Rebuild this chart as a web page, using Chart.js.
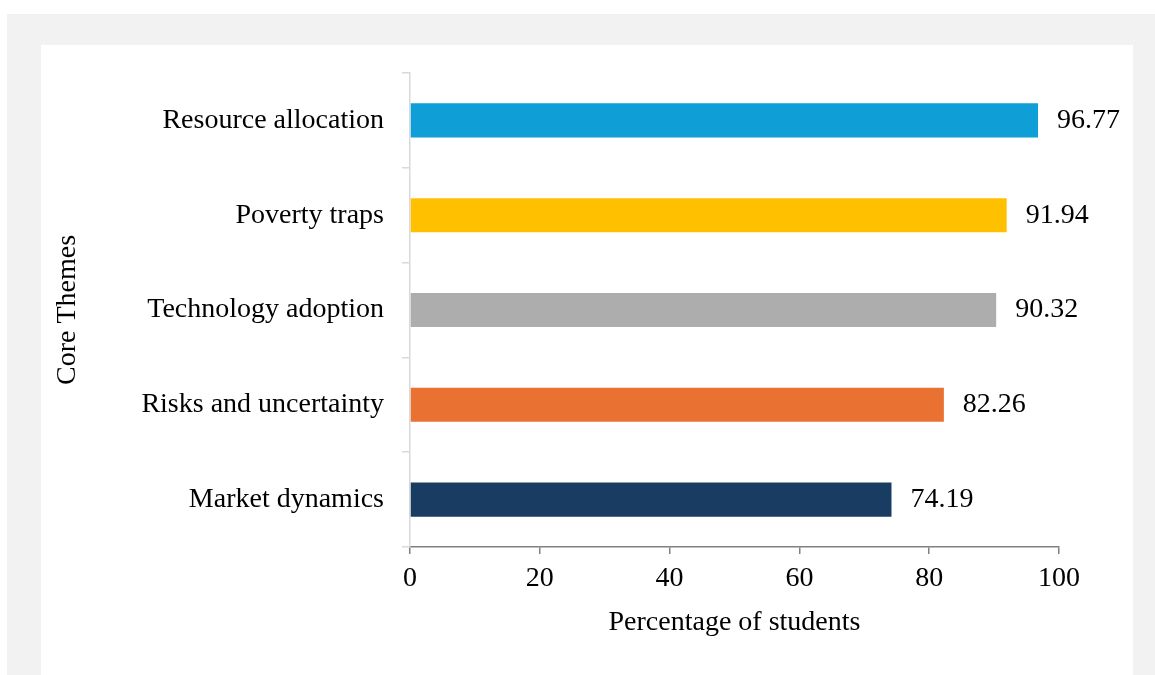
<!DOCTYPE html>
<html>
<head>
<meta charset="utf-8">
<script src="https://cdn.jsdelivr.net/npm/chart.js@4"></script>
<style>
    body { margin: 0; background: #fff; }
    #frame { position: absolute; left: 7px; top: 14px; width: 1148px; height: 661px; background: #f2f2f2; }
    #panel { position: absolute; left: 41px; top: 45px; width: 1092px; height: 630px; background: #fff; }
    #themesChart { position: absolute; left: 0; top: -7px; }
</style>
</head>
<body>
<div id="frame"></div>
<div id="panel"><canvas id="themesChart" width="1092" height="637"></canvas></div>
<script>
const themes = ['Resource allocation', 'Poverty traps', 'Technology adoption', 'Risks and uncertainty', 'Market dynamics'];
const percentages = [96.77, 91.94, 90.32, 82.26, 74.19];
const barColors = ['#0F9ED5', '#FFC000', '#ADADAD', '#E97132', '#193C62'];
const xTicks = [0, 20, 40, 60, 80, 100];

const FONT = "'Liberation Serif', 'Times New Roman', serif";

// value labels at the end of each bar
const valueLabels = {
    id: 'valueLabels',
    afterDatasetsDraw(chart) {
        const ctx = chart.ctx;
        const meta = chart.getDatasetMeta(0);
        ctx.save();
        ctx.font = '28px ' + FONT;
        ctx.fillStyle = '#000';
        ctx.textAlign = 'left';
        ctx.textBaseline = 'middle';
        meta.data.forEach((bar, i) => {
            ctx.fillText(percentages[i].toFixed(2), bar.x + 19, bar.y);
        });
        ctx.restore();
    }
};

new Chart(document.getElementById('themesChart'), {
    type: 'bar',
    data: {
        labels: themes,
        datasets: [{
            data: percentages,
            backgroundColor: barColors,
            barPercentage: 0.36,
            categoryPercentage: 1
        }]
    },
    options: {
        indexAxis: 'y',
        responsive: false,
        animation: false,
        layout: { padding: { top: 35, right: 74, bottom: 0, left: 0 } },
        plugins: { legend: { display: false }, tooltip: { enabled: false } },
        scales: {
            x: {
                min: 0,
                max: 100,
                afterFit: (s) => { s.height = 128; },
                afterBuildTicks: (s) => { s.ticks = xTicks.map(v => ({ value: v })); },
                border: { color: '#808080', width: 1.5 },
                grid: { drawOnChartArea: false, tickLength: 7, color: '#808080', lineWidth: 1.5 },
                ticks: { color: '#000', font: { family: FONT, size: 28 }, padding: 8 },
                title: {
                    display: true,
                    text: 'Percentage of students',
                    color: '#000',
                    font: { family: FONT, size: 28 },
                    padding: { top: 0, bottom: 36 }
                }
            },
            y: {
                afterFit: (s) => { s.width = 369; },
                border: { color: '#d9d9d9', width: 1.5 },
                grid: { drawOnChartArea: false, tickLength: 8, color: '#d9d9d9', lineWidth: 1.5 },
                ticks: { color: '#000', font: { family: FONT, size: 28 }, padding: 18 },
                title: {
                    display: true,
                    text: 'Core Themes',
                    color: '#000',
                    font: { family: FONT, size: 28 },
                    padding: { top: 10, bottom: 0 }
                }
            }
        }
    },
    plugins: [valueLabels]
});
</script>
</body>
</html>
